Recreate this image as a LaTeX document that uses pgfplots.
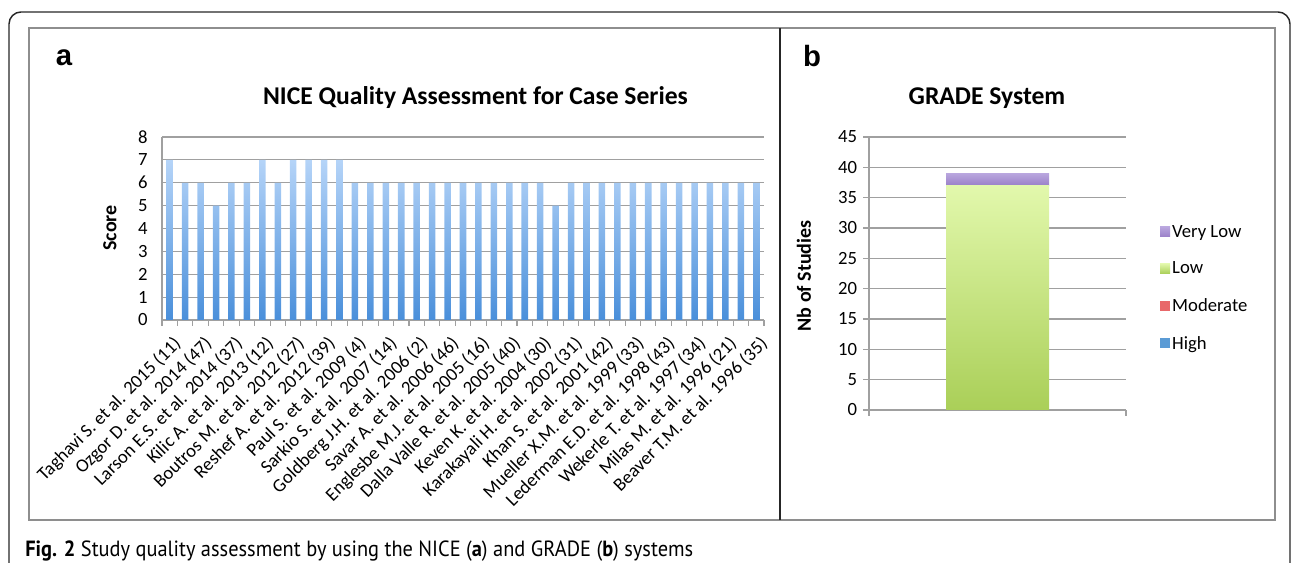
\documentclass[border=0pt]{standalone}
\usepackage{fontspec}
\setmainfont{Carlito}
\newfontfamily\arialfont{Liberation Sans}
\newfontfamily\capfont{PT Sans}
\usepackage{graphicx}
\usepackage{pgfplots}
\pgfplotsset{compat=1.18}
\definecolor{gridg}{HTML}{A0A0A0}
\definecolor{panelg}{HTML}{8E8E8E}
\definecolor{barTop}{HTML}{B5D4F8}
\definecolor{barBot}{HTML}{4A8FDA}
\definecolor{lowTop}{HTML}{E2F8AC}
\definecolor{lowBot}{HTML}{AACF58}
\definecolor{vlTop}{HTML}{B9A6DE}
\definecolor{vlBot}{HTML}{9A80C8}
\definecolor{modc}{HTML}{E8686A}
\definecolor{highc}{HTML}{5B9BD5}
\pgfplotstableread{
x y
1 7
2 6
3 6
4 5
5 6
6 6
7 7
8 6
9 7
10 7
11 7
12 7
13 6
14 6
15 6
16 6
17 6
18 6
19 6
20 6
21 6
22 6
23 6
24 6
25 6
26 5
27 6
28 6
29 6
30 6
31 6
32 6
33 6
34 6
35 6
36 6
37 6
38 6
39 6
}\nicetable
\begin{document}
\begin{tikzpicture}[x=0.75pt,y=0.75pt]
\useasboundingbox (0,0) rectangle (1292,563);
\begin{scope}
\clip (0,0) rectangle (1292,563);
\draw[black!85, line width=1.1pt] (9,-20) -- (9,539) arc[start angle=180,end angle=90,radius=12] -- (1278,551) arc[start angle=90,end angle=0,radius=12] -- (1290,-20);
\end{scope}
\draw[panelg, line width=0.8pt] (29,535) rectangle (1275,43);
\draw[black!85, line width=0.9pt] (780,535) -- (780,43);
% panel labels
\node[font=\arialfont\bfseries\fontsize{22}{26}\selectfont] at (64,505) {a};
\node[font=\arialfont\bfseries\fontsize{22}{26}\selectfont] at (812,507) {b};
% titles
\node[font=\bfseries\fontsize{19.2}{23}\selectfont] at (475.5,465) {NICE Quality Assessment for Case Series};
\node[font=\bfseries\fontsize{19.2}{23}\selectfont] at (987,465) {GRADE System};
\node[font=\bfseries\fontsize{15}{17}\selectfont, rotate=90] at (110,335) {Score};
\node[font=\bfseries\fontsize{15}{17}\selectfont, rotate=90] at (804,287) {Nb of Studies};

\begin{axis}[at={(121.5pt,182.25pt)}, anchor=south west, scale only axis,
  width=451.5pt, height=137.25pt,
  xmin=0.5, xmax=39.5, ymin=0, ymax=8,
  ytick={0,...,8},
  axis lines*=left, axis line style={gridg, line width=0.8pt},
  ymajorgrids, grid style={gridg, line width=0.8pt},
  tick align=outside,
  ytick style={draw=none},
  xtick={1,3,...,39},
  major x tick style={draw=none},
  minor xtick={0.5,1.5,...,39.5},
  minor x tick style={gridg, line width=0.8pt},
  minor tick length=4.5pt,
  xticklabels={Taghavi S. et al. 2015 (11),Ozgor D. et al. 2014 (47),Larson E.S. et al. 2014 (37),Kilic A. et al. 2013 (12),Boutros M. et al. 2012 (27),Reshef A. et al. 2012 (39),Paul S. et al. 2009 (4),Sarkio S. et al. 2007 (14),Goldberg J.H. et al. 2006 (2),Savar A. et al. 2006 (46),Englesbe M.J. et al. 2005 (16),Dalla Valle R. et al. 2005 (40),Keven K. et al. 2004 (30),Karakayali H. et al. 2002 (31),Khan S. et al. 2001 (42),Mueller X.M. et al. 1999 (33),Lederman E.D. et al. 1998 (43),Wekerle T. et al. 1997 (34),Milas M. et al. 1996 (21),Beaver T.M. et al. 1996 (35)},
  x tick label style={rotate=45, anchor=north east, inner sep=0pt, xshift=-3.5pt, yshift=-6pt},
  y tick label style={xshift=-3pt},
  tick label style={font=\fontsize{14}{16}\selectfont},
  /pgf/number format/assume math mode=true,
  clip=false
]
\addplot[ybar, bar width=4.9pt, draw=none, top color=barTop, bottom color=barBot] table[x=x,y=y] {\nicetable};
\end{axis}

\begin{axis}[at={(651.75pt,114.75pt)}, anchor=south west, scale only axis,
  width=192.75pt, height=204.75pt,
  xmin=-1, xmax=1, ymin=0, ymax=45,
  ytick={0,5,...,45},
  xtick={-1,1}, xticklabels={},
  axis lines*=left, axis line style={gridg, line width=0.8pt},
  ymajorgrids, grid style={gridg, line width=0.8pt},
  tick align=outside, major tick length=4.5pt,
  tick style={gridg, line width=0.8pt},
  y tick label style={xshift=-1pt},
  tick label style={font=\fontsize{14}{16}\selectfont},
  /pgf/number format/assume math mode=true,
  ybar stacked, bar width=77.25pt,
  reverse legend,
  legend style={draw=none, fill=none, at={(1.132,0.685)}, anchor=north west,
    font=\fontsize{14}{16}\selectfont, row sep=14pt, inner sep=0pt,
    nodes={inner sep=1.5pt}},
  legend cell align=left,
  legend image code/.code={\path[#1, draw=none] (0pt,-3.5pt) rectangle (7.5pt,4pt);},
  clip=false
]
\addplot[fill=highc, draw=none] coordinates {(0,0)}; \addlegendentry{High}
\addplot[fill=modc, draw=none] coordinates {(0,0)}; \addlegendentry{Moderate}
\addplot[draw=none, top color=lowTop, bottom color=lowBot] coordinates {(0,37)}; \addlegendentry{Low}
\addplot[draw=none, top color=vlTop, bottom color=vlBot] coordinates {(0,2)}; \addlegendentry{Very Low}
\end{axis}

\node[anchor=base west, inner sep=0pt] at (25,6) {\resizebox{501pt}{\height}{\capfont\fontsize{16.5}{18}\selectfont\textbf{Fig. 2} Study quality assessment by using the NICE (\textbf{a}) and GRADE (\textbf{b}) systems}};
\end{tikzpicture}
\end{document}
